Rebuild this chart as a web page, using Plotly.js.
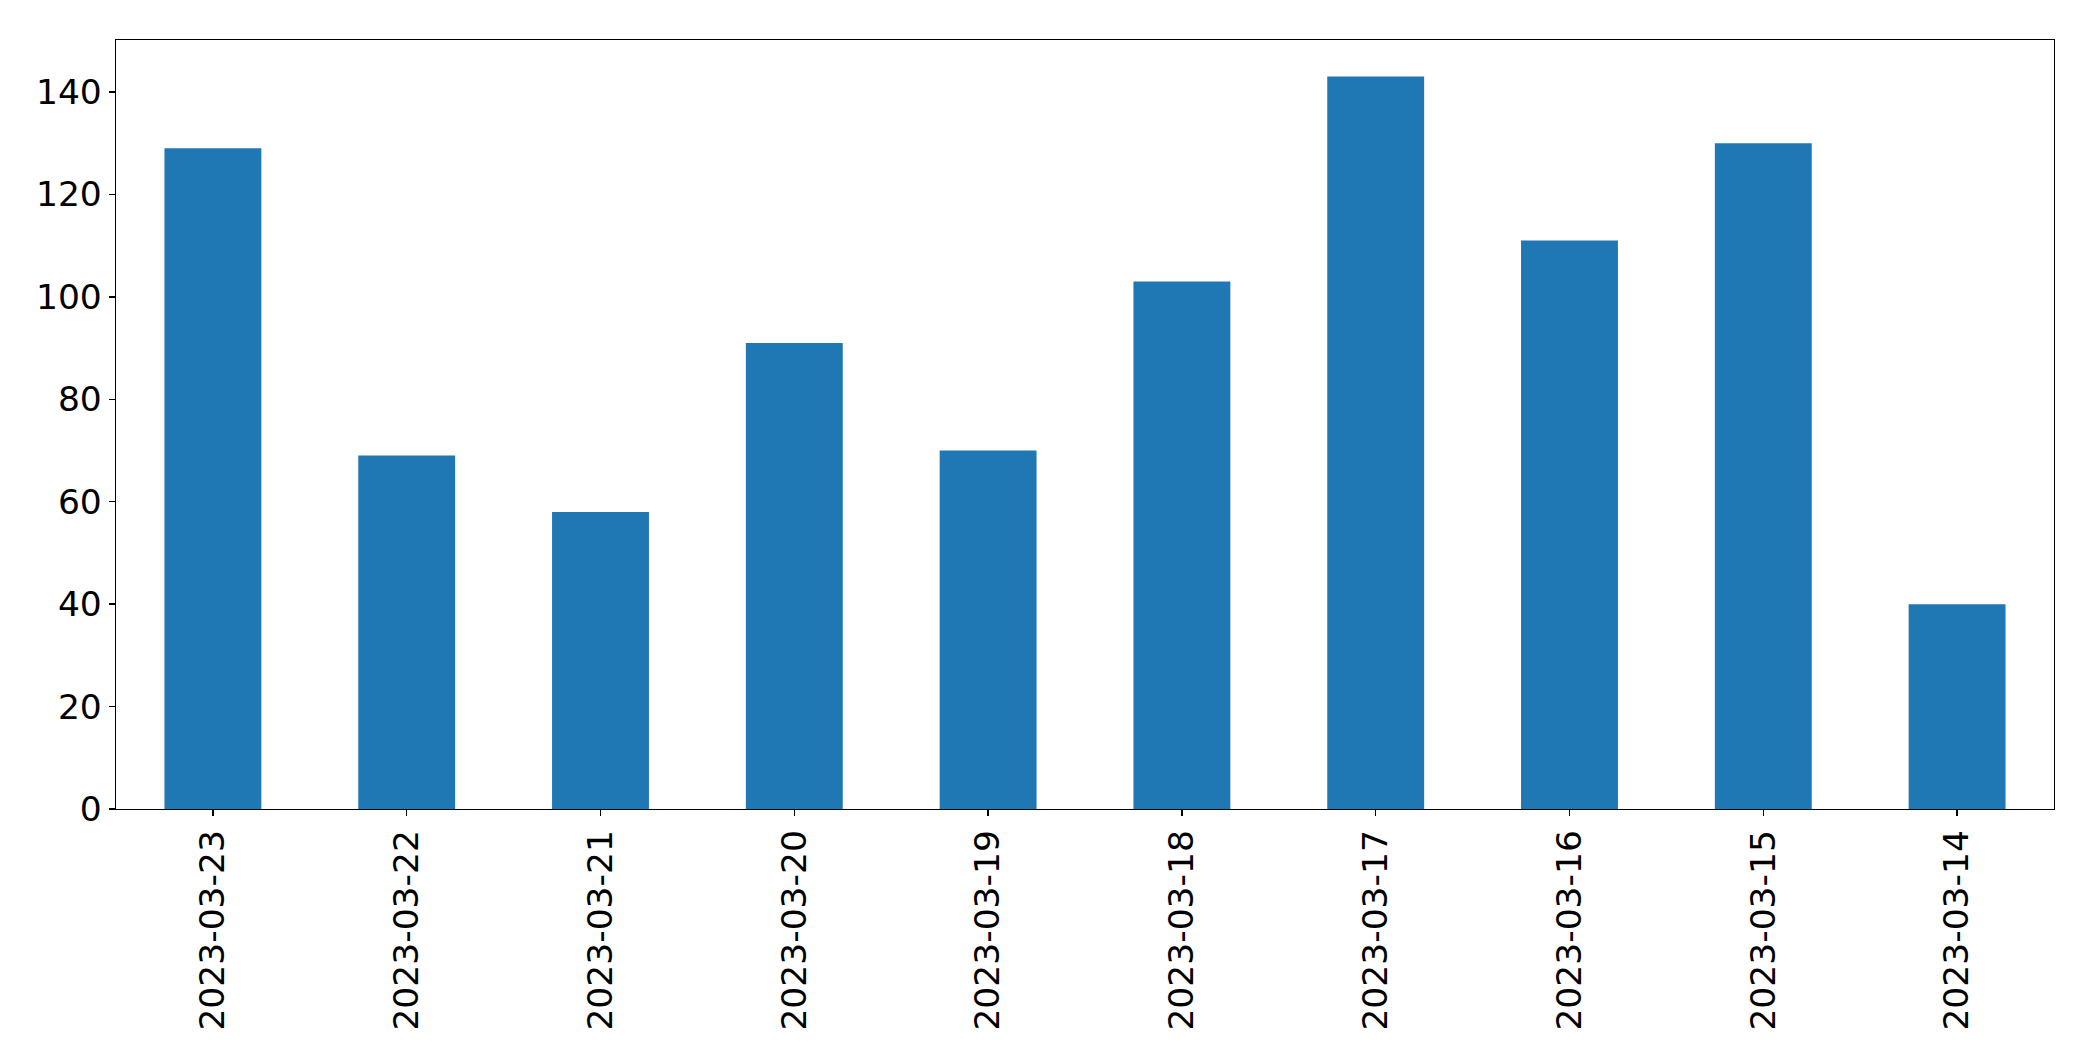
<!DOCTYPE html>
<html>
<head>
<meta charset="utf-8">
<script src="https://cdn.plot.ly/plotly-3.0.1.min.js"></script>
<style>html,body{margin:0;padding:0;background:#fff;}#chart{width:2093px;height:1061px;}</style>
</head>
<body>
<div id="chart"></div>
<script>
const categories = ["2023-03-23","2023-03-22","2023-03-21","2023-03-20","2023-03-19","2023-03-18","2023-03-17","2023-03-16","2023-03-15","2023-03-14"];
const values = [129, 69, 58, 91, 70, 103, 143, 111, 130, 40];
const yTicks = [0, 20, 40, 60, 80, 100, 120, 140];

const trace = {
  type: 'bar',
  x: categories,
  y: values,
  width: 0.5,
  marker: {color: '#1f77b4', line: {width: 0}},
  hoverinfo: 'x+y'
};

const layout = {
  width: 2093,
  height: 1061,
  margin: {l: 116, r: 39, t: 40, b: 252},
  paper_bgcolor: '#ffffff',
  plot_bgcolor: '#ffffff',
  font: {family: 'DejaVu Sans', size: 34.5, color: '#000000'},
  showlegend: false,
  bargap: 0.5,
  xaxis: {
    type: 'category',
    range: [-0.5, 9.5],
    tickangle: -90,
    showline: true, linecolor: '#000', linewidth: 1.3, mirror: true,
    ticks: 'outside', ticklen: 6, tickwidth: 1.3, tickcolor: '#000',
    showgrid: false, zeroline: false,
    ticklabelstandoff: 0,
    tickfont: {family: 'DejaVu Sans', size: 34.5, color: '#000'}
  },
  yaxis: {
    range: [0, 150.15],
    tickvals: yTicks,
    ticktext: yTicks.map(String),
    showline: true, linecolor: '#000', linewidth: 1.3, mirror: true,
    ticks: 'outside', ticklen: 6, tickwidth: 1.3, tickcolor: '#000',
    showgrid: false, zeroline: false,
    ticklabelstandoff: 0,
    tickfont: {family: 'DejaVu Sans', size: 34.5, color: '#000'}
  }
};

Plotly.newPlot('chart', [trace], layout, {displayModeBar: false, staticPlot: true});
</script>
</body>
</html>
